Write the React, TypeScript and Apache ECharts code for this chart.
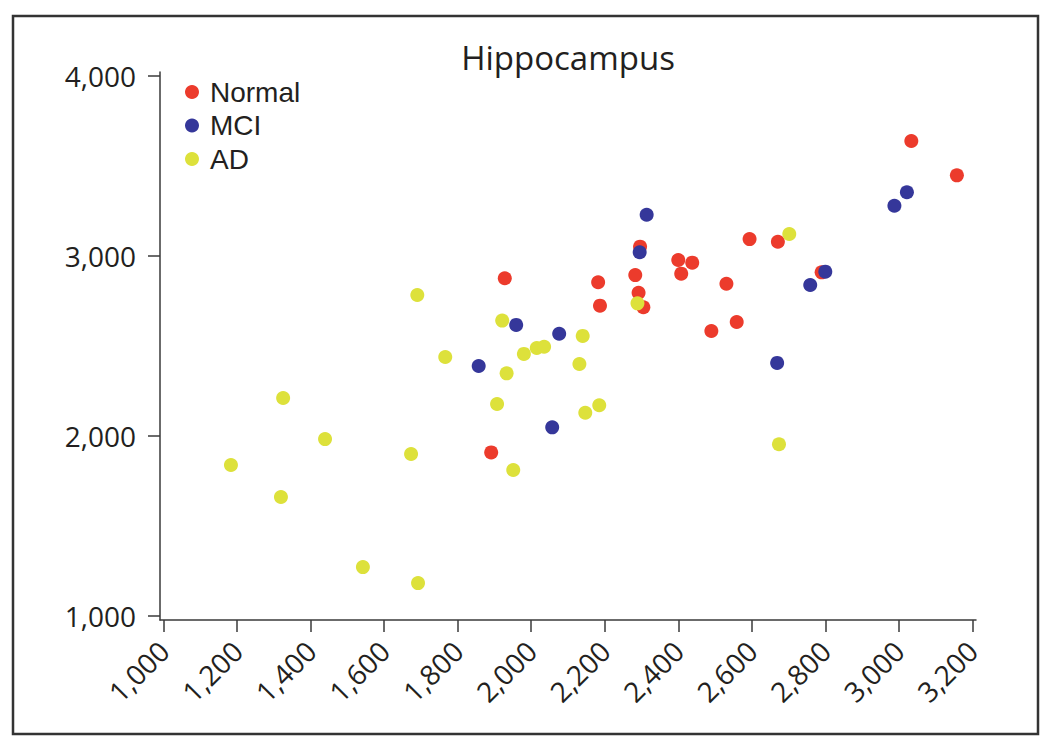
import React, { useEffect, useRef } from "react";
import * as echarts from "echarts";

const titleText = "Hippocampus";
const seriesNames = ["Normal", "MCI", "AD"];
const seriesColors = ["#EC3B2C", "#35379A", "#DDE13B"];

const xTicks = [1000, 1200, 1400, 1600, 1800, 2000, 2200, 2400, 2600, 2800, 3000, 3200];
const yTicks = [1000, 2000, 3000, 4000];

const normalData: [number, number][] = [
  [1928, 2876], [1891, 1909], [2296, 3052], [2182, 2854], [2187, 2724],
  [2283, 2894], [2292, 2796], [2305, 2715], [2400, 2978], [2438, 2963],
  [2408, 2902], [3034, 3639], [3158, 3448], [2594, 3094], [2671, 3079],
  [2531, 2846], [2559, 2633], [2490, 2583], [2790, 2909],
];

const mciData: [number, number][] = [
  [2314, 3229], [2295, 3021], [1959, 2617], [2076, 2568], [1857, 2389],
  [2057, 2048], [2800, 2913], [2759, 2839], [2669, 2406], [3022, 3354],
  [2988, 3279],
];

const adData: [number, number][] = [
  [1183, 1839], [1325, 2211], [1319, 1661], [1439, 1983], [1542, 1272],
  [1692, 1183], [1673, 1900], [1690, 2783], [1766, 2439], [1907, 2178],
  [1921, 2641], [1933, 2348], [1951, 1811], [1980, 2456], [2015, 2489],
  [2035, 2496], [2140, 2556], [2131, 2400], [2147, 2129], [2185, 2171],
  [2289, 2737], [2702, 3122], [2674, 1954],
];

const FONT = "'Open Sans', 'Liberation Sans', sans-serif";
const LEGEND_FONT = "'Liberation Sans', Arial, sans-serif";
const INK = "#231f20";
const AXIS = "#3a3a3a";

export default function App() {
  const ref = useRef<HTMLDivElement>(null);
  useEffect(() => {
    if (!ref.current) return;
    const chart = echarts.init(ref.current, undefined, { renderer: "svg" });
    const fmt = (v: number) => v.toLocaleString("en-US");
    const allData = [normalData, mciData, adData];
    chart.setOption({
      animation: false,
      backgroundColor: "#ffffff",
      title: {
        text: titleText,
        left: 563,
        textAlign: "center",
        top: 36,
        textStyle: { fontFamily: FONT, fontSize: 33, fontWeight: "normal", color: INK },
      },
      legend: {
        orient: "vertical",
        left: 180,
        top: 73,
        itemWidth: 14,
        itemHeight: 14,
        itemGap: 5.5,
        icon: "circle",
        data: seriesNames,
        textStyle: { fontFamily: LEGEND_FONT, fontSize: 28, lineHeight: 28, color: INK, padding: [0, 0, 0, 6] },
      },
      grid: { left: 160, top: 72, width: 816, height: 548 },
      xAxis: {
        type: "value",
        min: 990,
        max: 3210,
        splitLine: { show: false },
        axisLine: { lineStyle: { color: AXIS, width: 1.5 } },
        axisTick: { show: true, length: 12, customValues: xTicks, lineStyle: { color: AXIS, width: 1.5 } },
        axisLabel: {
          customValues: xTicks,
          rotate: 45,
          margin: 26,
          formatter: fmt,
          fontFamily: FONT,
          fontSize: 28,
          color: INK,
        },
      },
      yAxis: {
        type: "value",
        min: 978,
        max: 4022,
        splitLine: { show: false },
        axisLine: { show: true, lineStyle: { color: AXIS, width: 1.5 } },
        axisTick: { show: true, length: 12, customValues: yTicks, lineStyle: { color: AXIS, width: 1.5 } },
        axisLabel: {
          customValues: yTicks,
          margin: 24,
          formatter: fmt,
          fontFamily: FONT,
          fontSize: 28,
          color: INK,
        },
      },
      graphic: [
        {
          type: "rect",
          shape: { x: 13, y: 16, width: 1025, height: 718 },
          style: { fill: "none", stroke: "#333333", lineWidth: 2.5 },
          silent: true,
        },
      ],
      series: seriesNames.map((name, i) => ({
        name,
        type: "scatter",
        symbol: "circle",
        symbolSize: 14,
        itemStyle: { color: seriesColors[i], opacity: 1 },
        data: allData[i],
      })),
    });
    return () => chart.dispose();
  }, []);
  return (
    <div
      ref={ref}
      style={{ position: "fixed", left: 0, top: 0, width: 1050, height: 745 }}
    />
  );
}
